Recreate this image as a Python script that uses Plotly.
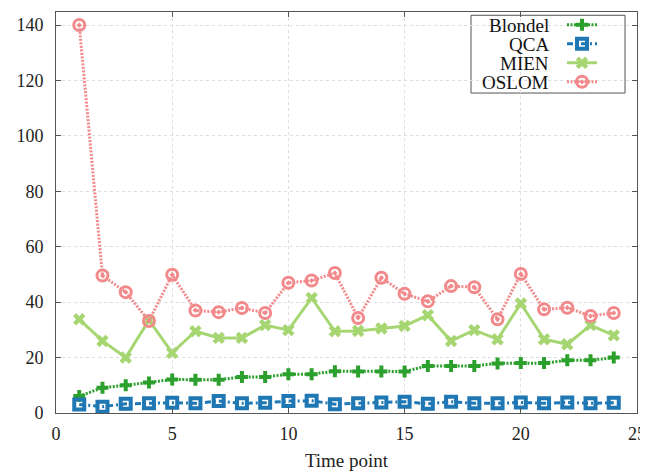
import plotly.graph_objects as go

time_points = list(range(1, 25))
blondel = [6.1, 9.1, 10, 11, 12.1, 12, 12, 13, 13, 14, 14, 15.1, 15, 15, 15, 17, 17, 17, 17.9, 18, 18, 19, 19, 20]
qca = [3.1, 2.3, 3.3, 3.5, 3.7, 3.5, 4.3, 3.5, 3.7, 4.3, 4.4, 3.2, 3.5, 3.8, 4.1, 3.3, 4.1, 3.5, 3.5, 3.8, 3.5, 3.8, 3.5, 3.7]
mien = [33.8, 26, 20, 33.5, 21.7, 29.5, 27.1, 27.1, 31.7, 29.9, 41.5, 29.5, 29.6, 30.5, 31.4, 35.3, 26, 29.9, 26.6, 39.5, 26.6, 24.8, 31.7, 28]
oslom = [140, 49.6, 43.6, 33.2, 49.9, 37, 36.4, 37.9, 36.1, 47, 47.8, 50.5, 34.3, 48.8, 43, 40.3, 45.8, 45.4, 33.8, 50.2, 37.4, 38, 35, 36.1]
series_names = ["Blondel", "QCA", "MIEN", "OSLOM"]
x_ticks = [0, 5, 10, 15, 20, 25]
y_ticks = [0, 20, 40, 60, 80, 100, 120, 140]

FONT = "Liberation Serif"
styles = {
    "Blondel": dict(color="#2ca02c", dash="2px,1.5px", symbol="cross", size=10, lw=0),
    "QCA": dict(color="#1f78b4", dash="6px,3px,2px,3px", symbol="square-open", size=10, lw=4),
    "MIEN": dict(color="#a6d672", dash="solid", symbol="x", size=11, lw=0),
    "OSLOM": dict(color="#f2898b", dash="2px,1.5px", symbol="circle-open-dot", size=11, lw=3),
}

fig = go.Figure()
for name, ys in zip(series_names, [blondel, qca, mien, oslom]):
    s = styles[name]
    fig.add_trace(go.Scatter(
        x=time_points, y=ys, mode="lines+markers", name=" ",
        line=dict(color=s["color"], width=3, dash=s["dash"]),
        marker=dict(symbol=s["symbol"], size=s["size"], color=s["color"],
                    line=dict(width=s["lw"], color=s["color"])),
    ))

axis_common = dict(
    showline=True, linecolor="#555555", linewidth=1, mirror="ticks",
    ticks="inside", ticklen=5, tickcolor="#555555",
    showgrid=True, gridcolor="#dddddd", griddash="dot", gridwidth=1,
    zeroline=False, tickfont=dict(family=FONT, size=18, color="#222222"),
    ticklabeloverflow="allow",
)
fig.update_xaxes(range=[0, 25], tickvals=x_ticks, ticklabelstandoff=4, **axis_common,
                 title=dict(text="Time point", font=dict(family=FONT, size=19, color="#222222"), standoff=11))
fig.update_yaxes(range=[0, 144.7], tickvals=y_ticks, ticklabelstandoff=8, **axis_common)

# legend text labels (right-aligned, left of symbols)
label_y = [24, 43, 62, 81]
for name, py in zip(series_names, label_y):
    fig.add_annotation(xref="paper", yref="paper", x=(550 - 56) / 581, y=(413 - py) / 402.3,
                       text=name, showarrow=False, xanchor="right", yanchor="middle",
                       font=dict(family=FONT, size=19, color="#111111"), borderpad=0)
fig.add_shape(type="rect", xref="paper", yref="paper",
              x0=(471 - 56) / 581, x1=(625 - 56) / 581, y0=(413 - 92) / 402.3, y1=(413 - 14) / 402.3,
              line=dict(color="#555555", width=1), fillcolor="white", layer="below")

fig.update_layout(
    width=640, height=466,
    margin=dict(l=48, r=11, t=3, b=61),
    plot_bgcolor="white", paper_bgcolor="white",
    font=dict(family=FONT),
    legend=dict(x=(562 - 56) / 581, y=(413 - 10) / 402.3, xanchor="left", yanchor="top",
                bgcolor="rgba(0,0,0,0)", borderwidth=0, font=dict(size=12),
                tracegroupgap=0, itemwidth=30),
)
fig.write_html("out.html")
